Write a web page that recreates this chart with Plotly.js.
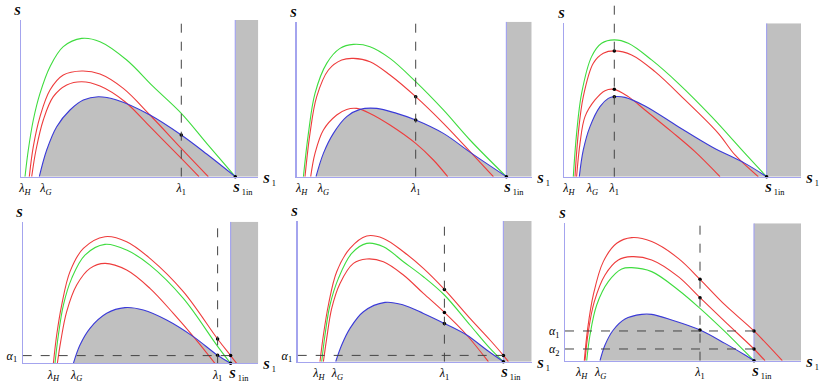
<!DOCTYPE html>
<html>
<head>
<meta charset="utf-8">
<script src="https://cdn.plot.ly/plotly-3.0.1.min.js"></script>
<style>html,body{margin:0;padding:0;background:#fff}#chart{width:819px;height:384px}</style>
</head>
<body>
<div id="chart"></div>
<script>
// ---------- Panel 1 (top-left) ----------
const p1Ticks = {lamH: 4, lamG: 25, lam1: 160.3, s1in: 214.3};
const p1GreenX = [4, 7.3, 12.3, 19, 29, 42.3, 60.7, 79, 105.7, 132.3, 160.3, 185.7, 214.3];
const p1GreenY = [0, 26.7, 56.7, 83.3, 110, 130, 138.3, 135, 116.7, 90, 63.3, 33.3, 0];
const p1Red1X = [8.3, 12.3, 19, 29, 42.3, 60.7, 79, 102.3, 129, 160.3, 187.3];
const p1Red1Y = [0, 30, 60, 86.7, 101.7, 105.7, 102.7, 88.3, 61.7, 28.3, 0];
const p1Red2X = [10.7, 15, 22.3, 32.3, 45.7, 60.7, 79, 104, 129, 160.3, 178];
const p1Red2Y = [0, 26.7, 56.7, 80, 91.7, 95, 90.7, 75, 50, 18.3, 0];
const p1BlueX = [18.3, 25.7, 35.7, 49, 62.3, 77.3, 95.7, 129, 160.3, 185.7, 214.3];
const p1BlueY = [0, 26.7, 50, 66.7, 76.7, 80, 76.7, 61.7, 41.7, 22.7, 0];
const p1DotsX = [160.3, 214.3];
const p1DotsY = [41.7, 0];
const p1Alpha = [];

// ---------- Panel 2 (top-middle) ----------
const p2Ticks = {lamH: 5, lamG: 26.7, lam1: 119, s1in: 209.7};
const p2GreenX = [6.7, 11.7, 18.3, 30, 43.3, 56.7, 73.3, 93.3, 119, 146.7, 173.3, 209.7];
const p2GreenY = [0, 43.3, 83.3, 113.3, 128.3, 132.3, 130, 118.3, 95, 66.7, 36.7, 0];
const p2Red1X = [8.3, 13.3, 20, 31.7, 45, 56.7, 73.3, 93.3, 119, 146.7, 175, 196.7];
const p2Red1Y = [0, 43.3, 80, 106.7, 116.7, 118.3, 115, 101.7, 80, 53.3, 23.3, 0];
const p2Red2X = [14, 18.3, 26.7, 40, 50, 60, 73.3, 93.3, 119, 136.7, 151];
const p2Red2Y = [0, 23.3, 46.7, 61.7, 67.3, 68.3, 63.3, 51.7, 33.3, 16.7, 0];
const p2BlueX = [19.3, 26.7, 36.7, 50, 63.3, 80, 100, 119, 146.7, 175, 209.7];
const p2BlueY = [0, 23.3, 43.3, 60, 67.3, 68.3, 63.3, 56.7, 43.3, 23.3, 0];
const p2DotsX = [119, 119, 209.7];
const p2DotsY = [80, 56.7, 0];
const p2Alpha = [];

// ---------- Panel 3 (top-right) ----------
const p3Ticks = {lamH: 4.7, lamG: 28, lam1: 50, s1in: 202.3};
const p3GreenX = [9, 12.3, 17.3, 27.3, 37.3, 50, 64, 87.3, 114, 147.3, 180.7, 202.3];
const p3GreenY = [0, 43.3, 83.3, 120, 133.3, 136.7, 133.3, 116.7, 93.3, 60, 23.3, 0];
const p3Red1X = [10.7, 14, 19, 29, 39, 50, 67.3, 90.7, 120.7, 154, 170.7, 194];
const p3Red1Y = [0, 43.3, 80, 113.3, 123.3, 125.7, 121.7, 105, 76.7, 43.3, 21.7, 0];
const p3Red2X = [12.3, 15.7, 20.7, 30.7, 40.7, 50, 64, 80.7, 107.3, 130.7, 155.7];
const p3Red2Y = [0, 33.3, 60, 76.7, 86, 87.3, 80, 66.7, 45, 25, 0];
const p3BlueX = [15, 19, 25.7, 35.7, 44, 50, 60.7, 80.7, 114, 147.3, 180.7, 202.3];
const p3BlueY = [0, 26.7, 50, 70, 78.3, 80, 79.3, 70.7, 50, 30, 13.3, 0];
const p3DotsX = [50, 50, 50, 202.3];
const p3DotsY = [125.7, 87.3, 80, 0];
const p3Alpha = [];

// ---------- Panel 4 (bottom-left) ----------
const p4Ticks = {lamH: 30.7, lamG: 54, lam1: 195, s1in: 208};
const p4Red1X = [30.7, 34, 39, 47.3, 60.7, 82.3, 104, 127.3, 160.7, 195, 208, 214];
const p4Red1Y = [0, 28.3, 58.3, 91.7, 115, 126.7, 121.7, 105, 71.7, 24.3, 7.7, 0];
const p4GreenX = [32.3, 35.7, 40.7, 49, 62.3, 82.3, 104, 127.3, 160.7, 195, 208];
const p4GreenY = [0, 28.3, 58.3, 85, 108.3, 119, 113.3, 98.3, 65, 17, 0];
const p4Red2X = [34.7, 38, 44, 54, 67.3, 82.3, 104, 127.3, 150.7, 172.3, 192.3];
const p4Red2Y = [0, 21.7, 51.7, 78.3, 95, 100, 93.3, 75, 50, 25, 0];
const p4BlueX = [50.7, 57.3, 67.3, 84, 102.3, 120.7, 144, 170.7, 195, 208];
const p4BlueY = [0, 18.3, 35, 50, 55.7, 53.3, 43.3, 26.7, 8, 0];
const p4DotsX = [195, 195, 208, 208];
const p4DotsY = [24.3, 8, 7.7, 0];
const p4Alpha = [7.7];

// ---------- Panel 5 (bottom-middle) ----------
const p5Ticks = {lamH: 21.3, lamG: 39.7, lam1: 146.7, s1in: 205.7};
const p5Red1X = [22.3, 25.7, 30.7, 39, 52.3, 69, 85.7, 105.7, 125.7, 146.7, 172.3, 192.3, 205.7, 210.7];
const p5Red1Y = [0, 26.7, 56.7, 90, 113.3, 125.7, 123.3, 110, 93.3, 72.3, 43.3, 21.7, 6.3, 0];
const p5GreenX = [24, 27.3, 32.3, 40.7, 54, 69, 85.7, 105.7, 125.7, 146.7, 172.3, 192.3, 205.7];
const p5GreenY = [0, 26.7, 56.7, 83.3, 108.3, 118.3, 115, 100, 85, 66.7, 36.7, 13.3, 0];
const p5Red2X = [25.7, 29, 34, 42.3, 55.7, 69, 85.7, 105.7, 125.7, 146.7, 169, 190.7];
const p5Red2Y = [0, 23.3, 53.3, 78.3, 98.3, 102.7, 100, 86.7, 68.3, 49.3, 26.7, 0];
const p5BlueX = [38, 44, 52.3, 65.7, 87.3, 105.7, 125.7, 146.7, 169, 189, 205.7];
const p5BlueY = [0, 16.7, 33.3, 50, 59.3, 56.7, 48.3, 38.3, 26.7, 11.7, 0];
const p5DotsX = [146.7, 146.7, 146.7, 205.7, 205.7];
const p5DotsY = [72.3, 49.3, 38.3, 6.3, 0];
const p5Alpha = [6.3];

// ---------- Panel 6 (bottom-right) ----------
const p6Ticks = {lamH: 16.7, lamG: 35.7, lam1: 135, s1in: 189};
const p6Red1X = [19.3, 22.7, 28.3, 38.3, 51.7, 66.7, 86.7, 113.3, 135, 160, 189, 217.3];
const p6Red1Y = [0, 32.3, 65.7, 99, 117.3, 123, 119, 102.3, 81.3, 55.7, 29.7, 0];
const p6Red2X = [20, 23.3, 29.3, 40, 53.3, 66.7, 86.7, 113.3, 135, 160, 189, 200];
const p6Red2Y = [0, 29, 59, 85.7, 100.7, 104, 100.7, 84, 63, 39, 11.7, 0];
const p6GreenX = [21.7, 25, 31.7, 43.3, 56.7, 66.7, 86.7, 113.3, 135, 160, 180, 189];
const p6GreenY = [0, 25.7, 55.7, 79, 91.7, 93, 89, 70.7, 52.3, 29, 9, 0];
const p6BlueX = [35, 40, 48.3, 60, 76.7, 86.7, 106.7, 135, 160, 180, 189];
const p6BlueY = [0, 15.7, 30.7, 41.7, 46.3, 46.3, 40.7, 30.7, 17.3, 5.7, 0];
const p6DotsX = [135, 135, 135, 189, 189, 189];
const p6DotsY = [81.3, 63, 30.7, 29.7, 11.7, 0];
const p6Alpha = [29.7, 11.7];

// ---------- styling & layout ----------
const C_GREEN = '#3fdc3f', C_RED = '#ee3c3c', C_BLUE = '#3a3ad8', C_FILL = '#c0c0c0';
const C_AXIS = '#a4a4ee', C_DASH = '#444444';
const FONT = 'Liberation Serif, Times New Roman, serif';

const panels = [
  {ticks: p1Ticks, blue: [p1BlueX, p1BlueY], others: [[p1GreenX, p1GreenY, C_GREEN], [p1Red1X, p1Red1Y, C_RED], [p1Red2X, p1Red2Y, C_RED]], dots: [p1DotsX, p1DotsY], alpha: p1Alpha,
   dom: [[0.02564, 0.31538], [0.53984, 0.94792]], rng: [237.3, 156.7], vTop: null},
  {ticks: p2Ticks, blue: [p2BlueX, p2BlueY], others: [[p2GreenX, p2GreenY, C_GREEN], [p2Red1X, p2Red1Y, C_RED], [p2Red2X, p2Red2Y, C_RED]], dots: [p2DotsX, p2DotsY], alpha: p2Alpha,
   dom: [[0.36227, 0.64921], [0.53984, 0.94349]], rng: [235, 155], vTop: null},
  {ticks: p3Ticks, blue: [p3BlueX, p3BlueY], others: [[p3GreenX, p3GreenY, C_GREEN], [p3Red1X, p3Red1Y, C_RED], [p3Red2X, p3Red2Y, C_RED]], dots: [p3DotsX, p3DotsY], alpha: p3Alpha,
   dom: [[0.68901, 0.97802], [0.53984, 0.93932]], rng: [236.7, 153.3], vTop: 0.987},
  {ticks: p4Ticks, blue: [p4BlueX, p4BlueY], others: [[p4Red1X, p4Red1Y, C_RED], [p4GreenX, p4GreenY, C_GREEN], [p4Red2X, p4Red2Y, C_RED]], dots: [p4DotsX, p4DotsY], alpha: p4Alpha,
   dom: [[0.02772, 0.31538], [0.05391, 0.42266]], rng: [235.7, 141.7], vTop: null},
  {ticks: p5Ticks, blue: [p5BlueX, p5BlueY], others: [[p5Red1X, p5Red1Y, C_RED], [p5GreenX, p5GreenY, C_GREEN], [p5Red2X, p5Red2Y, C_RED]], dots: [p5DotsX, p5DotsY], alpha: p5Alpha,
   dom: [[0.36349, 0.64921], [0.05807, 0.42448]], rng: [234, 140.7], vTop: null},
  {ticks: p6Ticks, blue: [p6BlueX, p6BlueY], others: [[p6Red1X, p6Red1Y, C_RED], [p6Red2X, p6Red2Y, C_RED], [p6GreenX, p6GreenY, C_GREEN]], dots: [p6DotsX, p6DotsY], alpha: p6Alpha,
   dom: [[0.68987, 0.97802], [0.06068, 0.41849]], rng: [236, 137.3], vTop: null}
];

const alphaNames = ['<i>α</i><sub>1</sub>', '<i>α</i><sub>2</sub>'];
const traces = [], shapes = [], annotations = [];
const layout = {
  width: 819, height: 384, margin: {l: 0, r: 0, t: 0, b: 0},
  paper_bgcolor: '#ffffff', plot_bgcolor: 'rgba(0,0,0,0)', showlegend: false,
  font: {family: FONT, size: 12, color: '#000'}
};

panels.forEach((p, i) => {
  const n = i + 1, xa = 'x' + n, ya = 'y' + n;
  const xk = 'xaxis' + (n === 1 ? '' : n), yk = 'yaxis' + (n === 1 ? '' : n);
  const t = p.ticks;
  layout[xk] = {
    domain: p.dom[0], range: [0, p.rng[0]], anchor: ya,
    showline: true, linecolor: C_AXIS, linewidth: 1.2, showgrid: false, zeroline: false,
    ticks: '', tickangle: 0, tickvals: [t.lamH, t.lamG, t.lam1],
    ticktext: ['<i>λ</i><sub><i>H</i></sub>', '<i>λ</i><sub><i>G</i></sub>', '<i>λ</i><sub>1</sub>'],
    tickfont: {family: FONT, size: 12, color: '#000'}, ticklabelstandoff: 0, fixedrange: true
  };
  layout[yk] = {
    domain: p.dom[1], range: [0, p.rng[1]], anchor: xa,
    showline: true, linecolor: C_AXIS, linewidth: 1.2, showgrid: false, zeroline: false,
    ticks: '', tickangle: 0, tickvals: p.alpha, ticktext: p.alpha.map((v, k) => alphaNames[k]),
    showticklabels: p.alpha.length > 0,
    tickfont: {family: FONT, size: 12, color: '#000'}, ticklabelstandoff: 2, fixedrange: true
  };
  // gray region right of S1in
  shapes.push({type: 'rect', xref: xa, yref: ya, x0: t.s1in, x1: p.rng[0], y0: 0, y1: p.rng[1],
    fillcolor: C_FILL, line: {width: 0}, layer: 'below'});
  shapes.push({type: 'line', xref: xa, yref: ya, x0: t.s1in, x1: t.s1in, y0: 0, y1: p.rng[1],
    line: {color: C_AXIS, width: 1.2}, layer: 'below'});
  // dashed vertical at lambda1
  if (p.vTop !== null) {
    shapes.push({type: 'line', xref: xa, yref: 'paper', x0: t.lam1, x1: t.lam1, y0: p.dom[1][0], y1: p.vTop,
      line: {color: C_DASH, width: 1, dash: 'dash'}});
  } else {
    shapes.push({type: 'line', xref: xa, yref: ya, x0: t.lam1, x1: t.lam1, y0: 0, y1: p.rng[1],
      line: {color: C_DASH, width: 1, dash: 'dash'}});
  }
  // dashed horizontals at alpha levels
  p.alpha.forEach(a => {
    shapes.push({type: 'line', xref: xa, yref: ya, x0: 0, x1: t.s1in, y0: a, y1: a,
      line: {color: C_DASH, width: 1, dash: 'dash'}});
  });
  // gray fill under blue curve
  traces.push({type: 'scatter', mode: 'lines', x: p.blue[0], y: p.blue[1], xaxis: xa, yaxis: ya,
    line: {color: 'rgba(0,0,0,0)', width: 0, shape: 'spline', smoothing: 1}, fill: 'tozeroy', fillcolor: C_FILL, hoverinfo: 'skip'});
  p.others.forEach(o => {
    traces.push({type: 'scatter', mode: 'lines', x: o[0], y: o[1], xaxis: xa, yaxis: ya,
      line: {color: o[2], width: 1.1, shape: 'spline', smoothing: 1}, hoverinfo: 'skip'});
  });
  traces.push({type: 'scatter', mode: 'lines', x: p.blue[0], y: p.blue[1], xaxis: xa, yaxis: ya,
    line: {color: C_BLUE, width: 1.1, shape: 'spline', smoothing: 1}, hoverinfo: 'skip'});
  traces.push({type: 'scatter', mode: 'markers', x: p.dots[0], y: p.dots[1], xaxis: xa, yaxis: ya,
    marker: {color: '#000', size: 3.5}, cliponaxis: false, hoverinfo: 'skip'});
  // S1in label: the S sits on the tick position, subscript trails to the right
  annotations.push({xref: xa, yref: ya + ' domain', x: t.s1in, y: 0, xanchor: 'left', yanchor: 'top',
    xshift: -4, yshift: -2, showarrow: false, text: '<b><i>S</i></b><sub> 1in</sub>', font: {family: FONT, size: 12, color: '#000'}});
  // axis name labels
  annotations.push({xref: xa + ' domain', yref: ya + ' domain', x: 0, y: 1, xanchor: 'center', yanchor: 'bottom',
    xshift: -3, yshift: 0, showarrow: false, text: '<b><i>S</i></b>', font: {family: FONT, size: 12, color: '#000'}});
  annotations.push({xref: xa + ' domain', yref: ya + ' domain', x: 1, y: 0, xanchor: 'left', yanchor: 'middle',
    xshift: 3, yshift: -3, showarrow: false, text: '<b><i>S</i></b><sub> 1</sub>', font: {family: FONT, size: 12, color: '#000'}});
});

layout.shapes = shapes;
layout.annotations = annotations;
Plotly.newPlot('chart', traces, layout, {staticPlot: true, displayModeBar: false});
</script>
</body>
</html>
